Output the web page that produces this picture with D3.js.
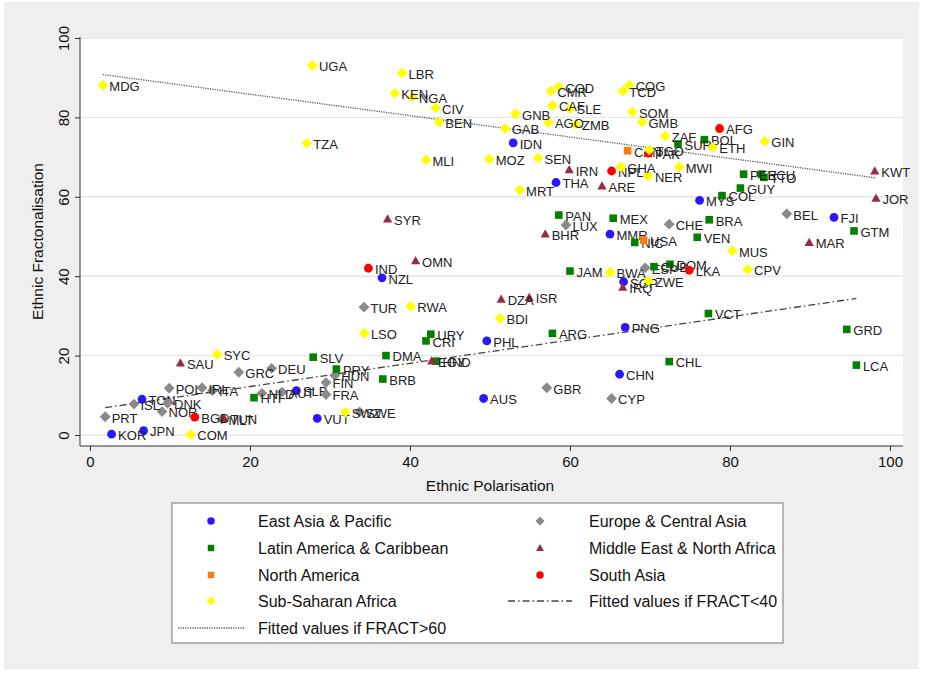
<!DOCTYPE html>
<html>
<head>
<meta charset="utf-8">
<script src="https://cdn.jsdelivr.net/npm/d3@7"></script>
<style>
  body { margin: 0; background: #fff; }
  svg { display: block; }
  text { font-family: "Liberation Sans", Arial, Helvetica, sans-serif; }
</style>
</head>
<body>
<svg id="chart" width="925" height="673"></svg>
<script>
// Each country: [code, ethnic polarisation, ethnic fractionalisation]
const eastAsiaPacific = [
  ["IDN", 52.9, 73.6], ["THA", 58.25, 63.6], ["MYS", 76.2, 59.1], ["FJI", 93.0, 54.8],
  ["MMR", 65.0, 50.6], ["NZL", 36.5, 39.6], ["SGP", 66.7, 38.6], ["PHL", 49.6, 23.7],
  ["PNG", 66.9, 27.1], ["CHN", 66.2, 15.3], ["AUS", 49.2, 9.2], ["VUT", 28.4, 4.2],
  ["KOR", 2.7, 0.2], ["JPN", 6.7, 1.1], ["TON", 6.5, 9.0], ["SLB", 25.8, 11.2]
];
const europeCentralAsia = [
  ["BEL", 87.1, 55.7], ["LUX", 59.5, 52.9], ["CHE", 72.4, 53.1], ["ESP", 69.4, 42.1],
  ["TUR", 34.25, 32.2], ["GBR", 57.1, 11.9], ["CYP", 65.2, 9.2], ["GRC", 18.6, 15.8],
  ["DEU", 22.7, 16.8], ["POL", 9.9, 11.8], ["IRL", 14.0, 11.9], ["ITA", 15.3, 11.2],
  ["FIN", 29.5, 13.2], ["FRA", 29.5, 10.2], ["HUN", 30.6, 15.0], ["NLD", 21.5, 10.5],
  ["AUT", 24.0, 10.8], ["PRT", 1.9, 4.6], ["NOR", 9.0, 5.9], ["DNK", 9.7, 8.0],
  ["SWE", 33.7, 5.8], ["ISL", 5.5, 7.8], ["MLT", 16.5, 4.0]
];
const latinAmericaCaribbean = [
  ["SUR", 73.5, 73.3], ["BOL", 76.8, 74.4], ["PER", 81.7, 65.7], ["ECU", 83.9, 65.7],
  ["TTO", 84.25, 64.9], ["GUY", 81.3, 62.2], ["COL", 79.0, 60.3], ["PAN", 58.6, 55.4],
  ["MEX", 65.4, 54.6], ["BRA", 77.4, 54.2], ["GTM", 95.5, 51.4], ["VEN", 75.9, 49.8],
  ["NIC", 68.1, 48.5], ["DOM", 72.5, 43.0], ["CUB", 70.5, 42.4], ["JAM", 60.0, 41.3],
  ["VCT", 77.3, 30.6], ["GRD", 94.6, 26.6], ["ARG", 57.8, 25.6], ["URY", 42.6, 25.4],
  ["CRI", 42.0, 23.7], ["DMA", 37.0, 20.0], ["SLV", 27.9, 19.6], ["PRY", 30.8, 16.6],
  ["HND", 43.25, 18.6], ["CHL", 72.4, 18.5], ["LCA", 95.8, 17.6], ["BRB", 36.6, 14.1],
  ["HTI", 20.5, 9.4]
];
const middleEastNorthAfrica = [
  ["KWT", 98.1, 66.5], ["JOR", 98.25, 59.6], ["IRN", 59.9, 66.8], ["ARE", 64.0, 62.7],
  ["SYR", 37.2, 54.4], ["BHR", 56.9, 50.6], ["MAR", 89.9, 48.5], ["OMN", 40.7, 43.9],
  ["IRQ", 66.6, 37.2], ["DZA", 51.4, 34.2], ["ISR", 54.9, 34.6], ["EGY", 42.7, 18.6],
  ["SAU", 11.3, 18.1], ["TUN", 16.75, 4.2]
];
const northAmerica = [
  ["CAN", 67.2, 71.6], ["USA", 69.2, 49.1]
];
const southAsia = [
  ["AFG", 78.7, 77.2], ["NPL", 65.2, 66.5], ["PAK", 69.8, 71.0], ["IND", 34.8, 42.0],
  ["LKA", 74.9, 41.5], ["BGD", 13.1, 4.5]
];
const subSaharanAfrica = [
  ["MDG", 1.6, 88.1], ["UGA", 27.8, 93.1], ["TZA", 27.1, 73.5], ["LBR", 39.0, 91.2],
  ["KEN", 38.1, 86.1], ["NGA", 40.3, 85.1], ["CIV", 43.2, 82.4], ["BEN", 43.6, 78.8],
  ["GNB", 53.2, 80.9], ["GAB", 51.9, 77.2], ["MLI", 42.0, 69.3], ["MOZ", 49.9, 69.5],
  ["SEN", 56.0, 69.8], ["CMR", 57.6, 86.6], ["COD", 58.6, 87.7], ["CAF", 57.8, 83.0],
  ["SLE", 60.0, 82.2], ["AGO", 57.3, 78.7], ["ZMB", 60.7, 78.3], ["COG", 67.4, 88.1],
  ["TCD", 66.6, 86.6], ["SOM", 67.8, 81.4], ["GMB", 69.0, 78.8], ["ZAF", 71.9, 75.3],
  ["ETH", 77.85, 72.45], ["GIN", 84.35, 73.95], ["MWI", 73.65, 67.5], ["NER", 69.8, 65.25],
  ["GHA", 66.35, 67.55], ["TGO", 69.9, 71.8], ["MRT", 53.7, 61.7], ["BWA", 65.0, 41.0],
  ["ZWE", 69.8, 38.8], ["MUS", 80.3, 46.4], ["CPV", 82.2, 41.7], ["RWA", 40.1, 32.4],
  ["BDI", 51.25, 29.4], ["LSO", 34.3, 25.6], ["SYC", 15.9, 20.3], ["SWZ", 31.9, 5.7],
  ["COM", 12.6, 0.1]
];

// Fitted regression lines, as [polarisation, fitted fractionalisation] end points
const fitBelow40 = [[1.9, 6.9], [95.8, 34.4]];
const fitAbove60 = [[1.6, 90.8], [98.1, 64.8]];

const xTicks = [0, 20, 40, 60, 80, 100];
const yTicks = [0, 20, 40, 60, 80, 100];

const groups = [
  { name: "East Asia & Pacific", data: eastAsiaPacific, shape: "circle", color: "#2b17ff" },
  { name: "Europe & Central Asia", data: europeCentralAsia, shape: "diamond", color: "#8a8a8a" },
  { name: "Latin America & Caribbean", data: latinAmericaCaribbean, shape: "square", color: "#008200" },
  { name: "Middle East & North Africa", data: middleEastNorthAfrica, shape: "triangle", color: "#9c2a45" },
  { name: "North America", data: northAmerica, shape: "square", color: "#ff7a10" },
  { name: "South Asia", data: southAsia, shape: "circle", color: "#ff0000" },
  { name: "Sub-Saharan Africa", data: subSaharanAfrica, shape: "diamond", color: "#ffff00" }
];

const svg = d3.select("#chart");
const W = 925, H = 673;

// Outer graph background
svg.append("rect").attr("x", 0).attr("y", 0).attr("width", W).attr("height", H).attr("fill", "#fff");
svg.append("rect").attr("x", 4).attr("y", 2).attr("width", 915).attr("height", 667).attr("fill", "#efefef");

const x = d3.scaleLinear().domain([0, 100]).range([90, 890]);
const y = d3.scaleLinear().domain([0, 100]).range([435, 38]);

const plot = { left: 80, right: 903, top: 37, bottom: 446 };

svg.append("rect")
  .attr("x", plot.left).attr("y", plot.top)
  .attr("width", plot.right - plot.left).attr("height", plot.bottom - plot.top)
  .attr("fill", "#fff");

// Horizontal grid lines
svg.append("g").selectAll("line").data(yTicks).join("line")
  .attr("x1", plot.left).attr("x2", plot.right)
  .attr("y1", d => y(d)).attr("y2", d => y(d))
  .attr("stroke", "#e6e6e6").attr("stroke-width", 1.4);

// Axes
const xAxis = d3.axisBottom(x).tickValues(xTicks).tickSize(5).tickPadding(5);
const gx = svg.append("g").attr("transform", `translate(0,${plot.bottom})`).call(xAxis);
gx.select(".domain").attr("d", `M${plot.left},0H${plot.right}`).attr("stroke", "#333");
gx.selectAll(".tick line").attr("stroke", "#333");
gx.selectAll(".tick text").attr("font-size", 15).attr("fill", "#111")
  .attr("font-family", "'Liberation Sans', Arial, sans-serif");

const yAxis = d3.axisLeft(y).tickValues(yTicks).tickSize(5).tickPadding(5);
const gy = svg.append("g").attr("transform", `translate(${plot.left},0)`).call(yAxis);
gy.select(".domain").attr("d", `M0,${plot.bottom}V${plot.top}`).attr("stroke", "#333");
gy.selectAll(".tick line").attr("stroke", "#333");
gy.selectAll(".tick text")
  .attr("font-size", 15).attr("fill", "#111")
  .attr("font-family", "'Liberation Sans', Arial, sans-serif")
  .attr("text-anchor", "middle").attr("x", 0).attr("dy", 0)
  .attr("transform", "translate(-11,0) rotate(-90)");

svg.append("text")
  .attr("x", (x(0) + x(100)) / 2).attr("y", 491)
  .attr("text-anchor", "middle").attr("font-size", 15.5).attr("fill", "#111")
  .text("Ethnic Polarisation");

svg.append("text")
  .attr("transform", `translate(43,${(plot.top + plot.bottom) / 2}) rotate(-90)`)
  .attr("text-anchor", "middle").attr("font-size", 15.5).attr("fill", "#111")
  .text("Ethnic Fractonalisation");

// Fitted lines
const line = d3.line().x(d => x(d[0])).y(d => y(d[1]));
svg.append("path").datum(fitAbove60).attr("d", line)
  .attr("fill", "none").attr("stroke", "#555").attr("stroke-width", 1.3)
  .attr("stroke-dasharray", "1.2,1.2");
svg.append("path").datum(fitBelow40).attr("d", line)
  .attr("fill", "none").attr("stroke", "#444").attr("stroke-width", 1.3)
  .attr("stroke-dasharray", "7,3,1.5,3");

// Marker shapes
function shapePath(shape, s) {
  if (shape === "circle") {
    const r = 4.4 * s;
    return `M${-r},0A${r},${r} 0 1,0 ${r},0A${r},${r} 0 1,0 ${-r},0Z`;
  }
  if (shape === "square") {
    const h = 3.8 * s;
    return `M${-h},${-h}H${h}V${h}H${-h}Z`;
  }
  if (shape === "diamond") {
    const h = 5.4 * s;
    return `M0,${-h}L${h},0L0,${h}L${-h},0Z`;
  }
  if (shape === "triangle") {
    const h = 4.6 * s;
    return `M0,${-h * 1.05}L${h},${h * 0.75}L${-h},${h * 0.75}Z`;
  }
}

const pts = svg.append("g");
groups.forEach(g => {
  const gg = pts.append("g");
  gg.selectAll("path").data(g.data).join("path")
    .attr("d", shapePath(g.shape, 1))
    .attr("transform", d => `translate(${x(d[1])},${y(d[2])})`)
    .attr("fill", g.color);
  gg.selectAll("text").data(g.data).join("text")
    .attr("x", d => x(d[1]) + 6.5)
    .attr("y", d => y(d[2]) + 5.8)
    .attr("font-size", 13).attr("fill", "#222")
    .text(d => d[0]);
});

// Legend
const lg = svg.append("g");
lg.append("rect").attr("x", 172).attr("y", 503).attr("width", 611).attr("height", 140)
  .attr("fill", "#fff").attr("stroke", "#8a8a8a").attr("stroke-width", 1.2);

const rowsY = [521, 548, 575, 601, 628];
const legendItems = [
  { g: groups[0], col: 0, row: 0 }, { g: groups[1], col: 1, row: 0 },
  { g: groups[2], col: 0, row: 1 }, { g: groups[3], col: 1, row: 1 },
  { g: groups[4], col: 0, row: 2 }, { g: groups[5], col: 1, row: 2 },
  { g: groups[6], col: 0, row: 3 }
];
const symX = [211, 540], txtX = [258, 589];
legendItems.forEach(it => {
  lg.append("path").attr("d", shapePath(it.g.shape, 0.85))
    .attr("transform", `translate(${symX[it.col]},${rowsY[it.row]})`)
    .attr("fill", it.g.color);
  lg.append("text").attr("x", txtX[it.col]).attr("y", rowsY[it.row] + 6)
    .attr("font-size", 16).attr("fill", "#111").text(it.g.name);
});
lg.append("line").attr("x1", 508).attr("x2", 572).attr("y1", rowsY[3]).attr("y2", rowsY[3])
  .attr("stroke", "#444").attr("stroke-width", 1.3).attr("stroke-dasharray", "7,3,1.5,3");
lg.append("text").attr("x", txtX[1]).attr("y", rowsY[3] + 6)
  .attr("font-size", 16).attr("fill", "#111").text("Fitted values if FRACT<40");
lg.append("line").attr("x1", 178).attr("x2", 244).attr("y1", rowsY[4]).attr("y2", rowsY[4])
  .attr("stroke", "#555").attr("stroke-width", 1.3).attr("stroke-dasharray", "1.2,1.2");
lg.append("text").attr("x", txtX[0]).attr("y", rowsY[4] + 6)
  .attr("font-size", 16).attr("fill", "#111").text("Fitted values if FRACT>60");
</script>
</body>
</html>
